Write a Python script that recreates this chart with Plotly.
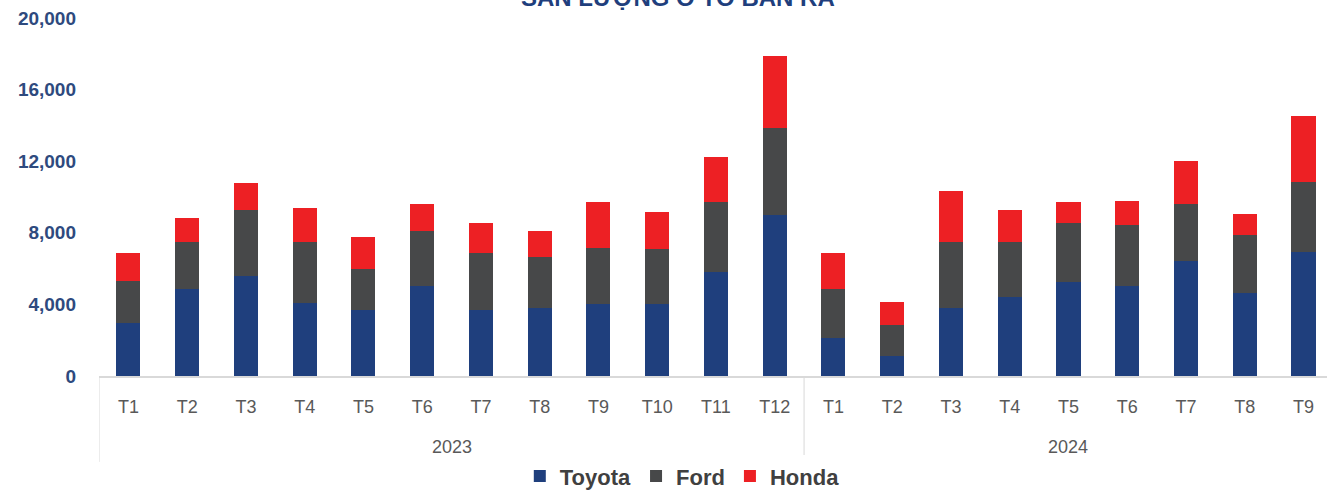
import plotly.graph_objects as go

years = ["2023", "2024"]
months_per_year = [12, 9]
months = [f"T{i}" for i in range(1, 13)] + [f"T{i}" for i in range(1, 10)]

toyota = [2950, 4850, 5570, 4100, 3690, 5030, 3690, 3800, 4000, 4000, 5790, 8980,
          2100, 1130, 3780, 4430, 5250, 5050, 6430, 4620, 6940]
ford = [2330, 2620, 3700, 3380, 2310, 3070, 3170, 2830, 3160, 3070, 3910, 4880,
        2740, 1720, 3690, 3040, 3280, 3370, 3180, 3280, 3910]
honda = [1590, 1380, 1490, 1900, 1790, 1490, 1680, 1490, 2540, 2100, 2530, 4040,
         2010, 1270, 2870, 1810, 1170, 1380, 2400, 1170, 3690]

y_ticks = [0, 4000, 8000, 12000, 16000, 20000]

idx = list(range(len(months)))
fig = go.Figure()
fig.add_trace(go.Bar(x=idx, y=toyota, name="Toyota", marker=dict(color="#1F3F7D", line=dict(width=0))))
fig.add_trace(go.Bar(x=idx, y=ford, name="Ford", marker=dict(color="#474849", line=dict(width=0))))
fig.add_trace(go.Bar(x=idx, y=honda, name="Honda", marker=dict(color="#ED2024", line=dict(width=0))))

annotations = [dict(
    text="<b>SẢN LƯỢNG Ô TÔ BÁN RA</b>",
    xref="paper", yref="paper",
    x=0.4715, y=1.0587, xanchor="center", yanchor="middle",
    showarrow=False,
    font=dict(size=24, color="#1F3F7D"),
)]
shapes = []
start = 0
bounds = [-0.5]
for yr, n in zip(years, months_per_year):
    center = start + (n - 1) / 2
    annotations.append(dict(
        text=yr, xref="x", yref="paper", x=center, y=-0.198,
        xanchor="center", yanchor="middle", showarrow=False,
        font=dict(size=18, color="#595959"),
    ))
    start += n
    bounds.append(start - 0.5)
for b in bounds:
    shapes.append(dict(
        type="line", xref="x", yref="paper", x0=b, x1=b, y0=0, y1=-0.24,
        line=dict(color="#D9D9D9", width=1), layer="below",
    ))

fig.update_layout(
    barmode="stack",
    bargap=0.59,
    width=1327,
    height=490,
    margin=dict(l=99, r=0, t=18, b=114, autoexpand=False),
    plot_bgcolor="white",
    paper_bgcolor="white",
    font=dict(family="Liberation Sans, Arial, sans-serif"),
    showlegend=True,
    legend=dict(
        orientation="h",
        x=0.475, xanchor="center",
        yref="container",
        y=0.028, yanchor="middle",
        font=dict(size=22, color="#404040", family="Liberation Sans, Arial, sans-serif", weight="bold"),
        itemwidth=30,
        traceorder="normal",
    ),
    annotations=annotations,
    shapes=shapes,
)

fig.update_yaxes(
    range=[0, 20000],
    tickvals=y_ticks,
    tickformat=",",
    showgrid=False,
    zeroline=False,
    showline=False,
    ticks="",
    automargin=False,
    ticklabelstandoff=22,
    tickfont=dict(size=19, color="#2E4A7E", weight="bold"),
)
fig.update_xaxes(
    range=[-0.5, 20.4],
    tickvals=idx,
    ticktext=months,
    showgrid=False,
    zeroline=False,
    showline=True,
    linecolor="#D9D9D9",
    linewidth=2,
    ticks="",
    automargin=False,
    ticklabelstandoff=13,
    tickfont=dict(size=18, color="#595959"),
)

fig.write_html("out.html")
